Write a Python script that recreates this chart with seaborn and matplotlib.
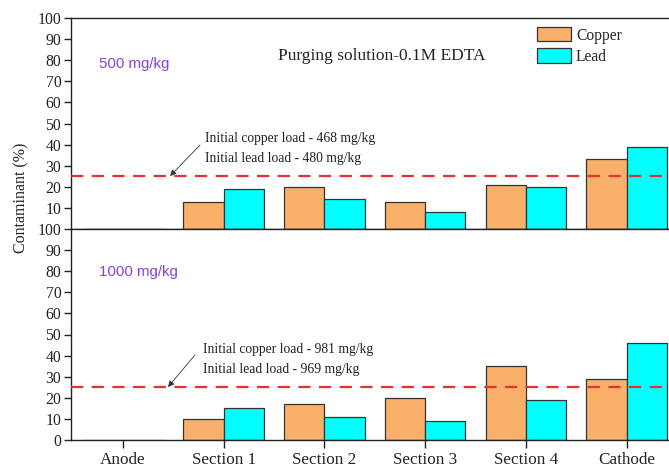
import matplotlib
matplotlib.use("Agg")
import matplotlib.pyplot as plt
import seaborn as sns
import pandas as pd

# Electrokinetic remediation results: share of contaminant per cell location
locations = ["Anode", "Section 1", "Section 2", "Section 3", "Section 4", "Cathode"]
metals = ["Copper", "Lead"]

copper_500 = [0, 13, 20, 13, 21, 33]
lead_500 = [0, 19, 14, 8, 20, 39]
copper_1000 = [0, 10, 17, 20, 35, 29]
lead_1000 = [0, 15, 11, 9, 19, 46]

initial_level = 25
panel_labels = ["500 mg/kg", "1000 mg/kg"]
load_notes = [
    ["Initial copper load - 468 mg/kg", "Initial lead load - 480 mg/kg"],
    ["Initial copper load - 981 mg/kg", "Initial lead load - 969 mg/kg"],
]
title_text = "Purging solution-0.1M EDTA"
y_label = "Contaminant (%)"

palette = {"Copper": "#F8B06A", "Lead": "#00FFFF"}


def long_frame(cu, pb):
    rows = []
    for loc, c, p in zip(locations, cu, pb):
        rows.append({"Location": loc, "Metal": "Copper", "Value": c})
        rows.append({"Location": loc, "Metal": "Lead", "Value": p})
    return pd.DataFrame(rows)


df_500 = long_frame(copper_500, lead_500)
df_1000 = long_frame(copper_1000, lead_1000)

sns.set_theme(style="ticks")
plt.rcParams["font.family"] = ["Liberation Serif", "DejaVu Serif"]

fig = plt.figure(figsize=(6.69, 4.68), dpi=100)
W, H = 669, 468
left = 71 / W
right = 679 / W
ax_top = fig.add_axes([left, 1 - 229 / H, right - left, (229 - 18) / H])
ax_bot = fig.add_axes([left, 1 - 440 / H, right - left, (440 - 229) / H])

panels = [
    (ax_top, df_500, panel_labels[0], load_notes[0], (0.765, 39.8), (0.467, 25.1), 0.814, 78.2),
    (ax_bot, df_1000, panel_labels[1], load_notes[1], (0.715, 40.3), (0.447, 25.1), 0.794, 79.5),
]

for ax, df, plabel, notes, tail, tip, tx, ly in panels:
    sns.barplot(data=df, x="Location", y="Value", hue="Metal", order=locations,
                hue_order=metals, palette=palette, width=0.8, saturation=1,
                edgecolor="#333333", linewidth=0.9, legend=False, ax=ax)
    ax.set_xlim(-0.516, 5.52)
    ax.set_ylim(0, 100)
    ax.axhline(initial_level, color="#E8302E", lw=1.6, dashes=(5.5, 3.8), zorder=3)
    ax.annotate("", xy=tip, xytext=tail,
                arrowprops=dict(arrowstyle="-|>", color="#333333", lw=0.6,
                                mutation_scale=9, shrinkA=0, shrinkB=0))
    ax.text(tx, 42.7, notes[0], fontsize=9.8, va="center", ha="left", color="#222222")
    ax.text(tx, 33.6, notes[1], fontsize=9.8, va="center", ha="left", color="#222222")
    ax.text(-0.24, ly, plabel, fontsize=10.8, va="center", ha="left",
            color="#8A3ED6", family=["Liberation Sans", "DejaVu Sans"])
    ax.set_xlabel("")
    ax.set_ylabel("")
    for s in ax.spines.values():
        s.set_color("#222222")
        s.set_linewidth(1.0)
    ax.tick_params(axis="y", direction="out", length=5, width=1.0, labelsize=11.3,
                   colors="#222222", pad=2)

ax_top.set_yticks(range(10, 101, 10))
ax_top.tick_params(axis="x", bottom=False, labelbottom=False)
ax_bot.set_yticks(range(0, 101, 10))
ax_bot.tick_params(axis="x", direction="out", length=6, width=1.0, labelsize=12.3,
                   colors="#222222", pad=3)

ax_top.text(2.57, 81.8, title_text, fontsize=12.5, ha="center", va="center",
            color="#222222")

fig.text(21 / W, 1 - 198 / H, y_label, rotation=90, ha="center", va="center",
         fontsize=11.5, color="#222222")

handles = [plt.Rectangle((0, 0), 1, 1, facecolor=palette[m], edgecolor="#333333",
                         linewidth=0.9) for m in metals]
fig.legend(handles, metals, loc="upper left", bbox_to_anchor=(537 / W, 1 - 27 / H),
           frameon=False, fontsize=11.2, handlelength=2.2, handleheight=1.05,
           handletextpad=0.3, labelspacing=0.3, borderpad=0, borderaxespad=0)

fig.savefig("out.png", dpi=100)
